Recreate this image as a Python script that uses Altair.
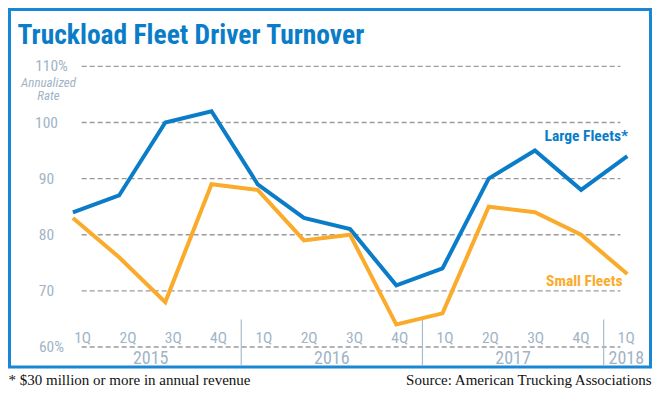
import altair as alt
import pandas as pd

# ---- data ----
quarters = ["1Q", "2Q", "3Q", "4Q", "1Q", "2Q", "3Q", "4Q", "1Q", "2Q", "3Q", "4Q", "1Q"]
years = ["2015", "2016", "2017", "2018"]
year_centers = [1.5, 5.5, 9.5, 12]          # in quarter-index units
separators = [3.5, 7.5, 11.5]
large_fleets = [84, 87, 100, 102, 89, 83, 81, 71, 74, 90, 95, 88, 94]
small_fleets = [83, 76, 68, 89, 88, 79, 80, 64, 66, 85, 84, 80, 73]
grid_values = [60, 70, 80, 90, 100, 110]
y_plain = [70, 80, 90, 100]
y_pct = [60, 110]

title = "Truckload Fleet Driver Turnover"
footnote = "* $30 million or more in annual revenue"
source = "Source: American Trucking Associations"

# ---- style ----
BLUE = "#0b7dc8"
ORANGE = "#fbab2b"
LABEL = "#9fb4c6"
GRID = "#9a9a9a"
NARROW = "Liberation Sans Narrow, Roboto Condensed, DejaVu Sans Condensed, Arial Narrow, sans-serif"
SERIF = "Liberation Serif, DejaVu Serif, serif"

W, H = 644, 380
xs_line = alt.Scale(domain=[0, 12], range=[64.9, 619.3])
xs_lab = alt.Scale(domain=[0, 12], range=[74.7, 618.3])
ys = alt.Scale(domain=[60, 110], range=[339, 58.4])
px = alt.Scale(domain=[0, H], range=[0, H])
pxx = alt.Scale(domain=[0, W], range=[0, W])

n = len(quarters)
lines_df = pd.DataFrame({
    "i": list(range(n)) * 2,
    "v": large_fleets + small_fleets,
    "s": ["Large Fleets*"] * n + ["Small Fleets"] * n,
})
one = pd.DataFrame({"a": [0]})

border = alt.Chart(one).mark_rect(fill="white", stroke="#1a86d6", strokeWidth=3).encode(
    x=alt.value(1.5), x2=alt.value(642.5), y=alt.value(1.5), y2=alt.value(359)
)

title_t = alt.Chart(pd.DataFrame({"t": [title]})).mark_text(
    font=NARROW, fontSize=27.5, fontWeight="bold", color=BLUE, align="left", baseline="alphabetic"
).encode(x=alt.value(9.5), y=alt.value(35.5), text="t:N")

grid = alt.Chart(pd.DataFrame({"g": grid_values})).mark_rule(
    color=GRID, strokeDash=[5, 3], strokeWidth=1.3
).encode(
    x=alt.value(73.7), x2=alt.value(612.4),
    y=alt.Y("g:Q", scale=ys, axis=None),
)

ylab_plain = alt.Chart(pd.DataFrame({"v": y_plain})).mark_text(
    font=NARROW, fontSize=15.5, color=LABEL, align="center", baseline="middle"
).encode(x=alt.value(38.5), y=alt.Y("v:Q", scale=ys, axis=None), text="v:N")

ylab_pct = alt.Chart(pd.DataFrame({"v": y_pct})).mark_text(
    font=NARROW, fontSize=15.5, color=LABEL, align="center", baseline="middle"
).transform_calculate(t="datum.v + '%'").encode(
    x=alt.value(43.5), y=alt.Y("v:Q", scale=ys, axis=None), text="t:N"
)

annual = alt.Chart(pd.DataFrame({"t": ["Annualized", "Rate"], "y": [74.5, 88]})).mark_text(
    font=NARROW, fontSize=13, fontStyle="italic", color=LABEL, align="center", baseline="middle"
).encode(x=alt.value(40.5), y=alt.Y("y:Q", scale=px, axis=None), text="t:N")

qlab = alt.Chart(pd.DataFrame({"i": list(range(n)), "q": quarters})).mark_text(
    font=NARROW, fontSize=15.5, color=LABEL, align="center", baseline="middle"
).encode(x=alt.X("i:Q", scale=xs_lab, axis=None), y=alt.value(330), text="q:N")

ylabs = alt.Chart(pd.DataFrame({"i": year_centers, "yr": years})).mark_text(
    font=NARROW, fontSize=18, color=LABEL, align="center", baseline="middle"
).encode(x=alt.X("i:Q", scale=xs_lab, axis=None), y=alt.value(350.5), text="yr:N")

seps = alt.Chart(pd.DataFrame({"i": separators})).mark_rule(color="#a9bccb", strokeWidth=1.2).encode(
    x=alt.X("i:Q", scale=xs_lab, axis=None), y=alt.value(311.5), y2=alt.value(357)
)

lines = alt.Chart(lines_df).mark_line(strokeWidth=4, strokeJoin="miter").encode(
    x=alt.X("i:Q", scale=xs_line, axis=None),
    y=alt.Y("v:Q", scale=ys, axis=None),
    color=alt.Color("s:N", scale=alt.Scale(domain=["Large Fleets*", "Small Fleets"], range=[BLUE, ORANGE]), legend=None),
    detail="s:N",
)

leg_df = pd.DataFrame({"t": ["Large Fleets*", "Small Fleets"], "x": [620, 614.5], "y": [127.5, 272.5]})
legend_t = alt.Chart(leg_df).mark_text(
    font=NARROW, fontSize=15.5, fontWeight="bold", align="right", baseline="middle"
).encode(
    x=alt.X("x:Q", scale=pxx, axis=None),
    y=alt.Y("y:Q", scale=px, axis=None),
    text="t:N",
    color=alt.Color("t:N", scale=alt.Scale(domain=["Large Fleets*", "Small Fleets"], range=[BLUE, ORANGE]), legend=None),
)

foot = alt.Chart(pd.DataFrame({"t": [footnote]})).mark_text(
    font=SERIF, fontSize=15, color="#111111", align="left", baseline="alphabetic"
).encode(x=alt.value(0.5), y=alt.value(377), text="t:N")

src = alt.Chart(pd.DataFrame({"t": [source]})).mark_text(
    font=SERIF, fontSize=15, color="#111111", align="right", baseline="alphabetic"
).encode(x=alt.value(643.5), y=alt.value(377), text="t:N")

chart = alt.layer(
    border, title_t, grid, ylab_plain, ylab_pct, annual, seps, qlab, ylabs, lines, legend_t, foot, src
).resolve_scale(x="independent", y="independent", color="independent").properties(
    width=W, height=H, autosize=alt.AutoSizeParams(type="none"), padding=0
).configure_view(stroke=None)

chart.save("out.html", embed_options={"renderer": "svg", "actions": False})
